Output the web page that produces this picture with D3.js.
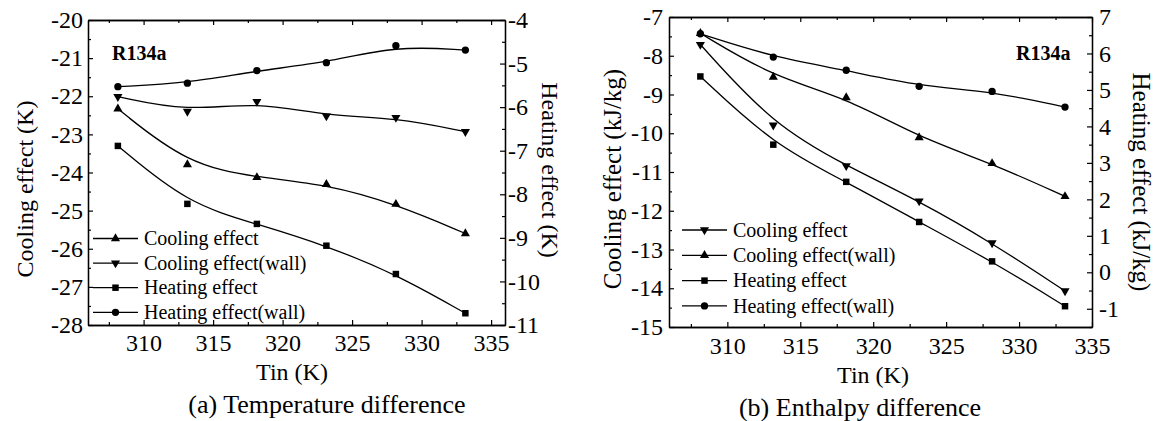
<!DOCTYPE html>
<html><head><meta charset="utf-8">
<script src="https://cdn.jsdelivr.net/npm/d3@7"></script>
<style>body{margin:0;background:#fff}</style>
</head><body>
<svg id="chart" width="1157" height="421"></svg>
<script>
// ---------- data ----------
const tinValues = [308.15, 313.15, 318.15, 323.15, 328.15, 333.15];

// (a) Temperature difference
const coolingA      = [-22.33, -23.79, -24.13, -24.31, -24.83, -25.60]; // left axis
const coolingWallA  = [-22.01, -22.40, -22.14, -22.52, -22.56, -22.93]; // left axis
const heatingA      = [-6.89, -8.22, -8.68, -9.18, -9.83, -10.73];      // right axis
const heatingWallA  = [-5.53, -5.45, -5.16, -4.98, -4.59, -4.69];       // right axis

// (b) Enthalpy difference
const coolingB      = [-7.71, -9.79, -10.84, -11.75, -12.83, -14.07];   // left axis
const coolingWallB  = [-7.42, -8.55, -9.08, -10.11, -10.78, -11.63];    // left axis
const heatingB      = [5.37, 3.50, 2.48, 1.38, 0.30, -0.93];            // right axis
const heatingWallB  = [6.54, 5.90, 5.54, 5.10, 4.96, 4.53];             // right axis

const xTicks = [310, 315, 320, 325, 330, 335];
const xMinorTicks = [307.5, 312.5, 317.5, 322.5, 327.5, 332.5];
const yLeftTicksA = [-28, -27, -26, -25, -24, -23, -22, -21, -20];
const yRightTicksA = [-11, -10, -9, -8, -7, -6, -5, -4];
const yLeftTicksB = [-15, -14, -13, -12, -11, -10, -9, -8, -7];
const yRightTicksB = [-1, 0, 1, 2, 3, 4, 5, 6, 7];

const seriesNames = ["Cooling effect", "Cooling effect(wall)", "Heating effect", "Heating effect(wall)"];

// ---------- drawing ----------
const svg = d3.select("#chart");
svg.append("rect").attr("width", 1157).attr("height", 421).attr("fill", "#fff");
const FONT = "'Liberation Serif','Times New Roman',serif";

const symbolGen = {
  triUp: d3.symbol().type(d3.symbolTriangle).size(36),
  triDown: d3.symbol().type(d3.symbolTriangle).size(36),
  square: d3.symbol().type(d3.symbolSquare).size(42),
  circle: d3.symbol().type(d3.symbolCircle).size(42)
};
function marker(sel, kind, cx, cy) {
  sel.append("path").attr("d", symbolGen[kind]())
    .attr("transform", `translate(${cx},${cy})` + (kind === "triDown" ? " rotate(180)" : ""))
    .attr("fill", "#000");
}

function halfSteps(a, b) {
  const out = [];
  for (let v = Math.ceil(a * 2) / 2; v <= b + 1e-9; v += 0.5) if (Math.abs(v - Math.round(v)) > 1e-9) out.push(v);
  return out;
}

function styleAxis(g, fontSize) {
  g.selectAll(".domain").attr("stroke", "#000").attr("stroke-width", 1.3);
  g.selectAll(".tick line").attr("stroke", "#000").attr("stroke-width", 1.2);
  g.selectAll("text").style("font-family", FONT).style("font-size", fontSize + "px").attr("fill", "#000");
}

function drawPanel(p) {
  const g = svg.append("g");
  const x = d3.scaleLinear().domain(p.xDomain).range(p.xRange);
  const yL = d3.scaleLinear().domain(p.yLDomain).range(p.yRange);
  const yR = d3.scaleLinear().domain(p.yRDomain).range(p.yRange);
  const [x0, x1] = p.xRange, [yb, yt] = p.yRange;
  const fmt = d => String(d);
  const TS = 24;

  // bottom
  g.append("g").attr("transform", `translate(0,${yb})`)
    .call(d3.axisBottom(x).tickValues(xTicks).tickFormat(fmt).tickSizeInner(-5).tickSizeOuter(0).tickPadding(p.xPad));
  g.append("g").attr("transform", `translate(0,${yb})`)
    .call(d3.axisBottom(x).tickValues(xMinorTicks).tickFormat("").tickSizeInner(-3).tickSizeOuter(0));
  // top
  g.append("g").attr("transform", `translate(0,${yt})`)
    .call(d3.axisTop(x).tickValues(xTicks).tickFormat("").tickSizeInner(-5).tickSizeOuter(0));
  g.append("g").attr("transform", `translate(0,${yt})`)
    .call(d3.axisTop(x).tickValues(xMinorTicks).tickFormat("").tickSizeInner(-3).tickSizeOuter(0));
  // left
  g.append("g").attr("transform", `translate(${x0},0)`)
    .call(d3.axisLeft(yL).tickValues(p.yLTicks).tickFormat(fmt).tickSizeInner(-5).tickSizeOuter(0).tickPadding(p.yLPad));
  g.append("g").attr("transform", `translate(${x0},0)`)
    .call(d3.axisLeft(yL).tickValues(halfSteps(p.yLDomain[0], p.yLDomain[1])).tickFormat("").tickSizeInner(-3).tickSizeOuter(0));
  // right
  g.append("g").attr("transform", `translate(${x1},0)`)
    .call(d3.axisRight(yR).tickValues(p.yRTicks).tickFormat(fmt).tickSizeInner(-5).tickSizeOuter(0).tickPadding(p.yRPad));
  g.append("g").attr("transform", `translate(${x1},0)`)
    .call(d3.axisRight(yR).tickValues(halfSteps(p.yRDomain[0], p.yRDomain[1])).tickFormat("").tickSizeInner(-3).tickSizeOuter(0));
  g.selectAll("g").each(function () { styleAxis(d3.select(this), TS); });

  // curves and markers
  p.series.forEach(s => {
    const sc = s.axis === "left" ? yL : yR;
    const pts = tinValues.map((t, i) => [x(t), sc(s.values[i])]);
    g.append("path").attr("d", d3.line().curve(d3.curveBasis)(pts))
      .attr("fill", "none").attr("stroke", "#000").attr("stroke-width", 1.3);
    pts.forEach(pt => marker(g, s.symbol, pt[0], pt[1]));
  });

  // legend
  p.series.forEach((s, i) => {
    const ly = p.legend.y0 + i * p.legend.dy;
    g.append("line").attr("x1", p.legend.x1).attr("x2", p.legend.x2).attr("y1", ly).attr("y2", ly)
      .attr("stroke", "#000").attr("stroke-width", 1.3);
    marker(g, s.symbol, (p.legend.x1 + p.legend.x2) / 2, ly);
    g.append("text").attr("x", p.legend.tx).attr("y", ly + p.legend.base)
      .style("font-family", FONT).style("font-size", "20px").text(s.name);
  });

  // label R134a
  g.append("text").attr("x", p.tag[0]).attr("y", p.tag[1])
    .style("font-family", FONT).style("font-size", "20px").style("font-weight", "bold").text("R134a");

  // axis titles
  g.append("text").attr("transform", `translate(${p.yLTitle[0]},${p.yLTitle[1]}) rotate(-90)`)
    .attr("text-anchor", "middle").style("font-family", FONT).style("font-size", p.titleSize + "px").text(p.yLLabel);
  g.append("text").attr("transform", `translate(${p.yRTitle[0]},${p.yRTitle[1]}) rotate(90)`)
    .attr("text-anchor", "middle").style("font-family", FONT).style("font-size", p.titleSize + "px").text(p.yRLabel);
  g.append("text").attr("x", p.xTitle[0]).attr("y", p.xTitle[1]).attr("text-anchor", "middle")
    .style("font-family", FONT).style("font-size", "24px").text("Tin (K)");
  g.append("text").attr("x", p.caption[0]).attr("y", p.caption[1]).attr("text-anchor", "middle")
    .style("font-family", FONT).style("font-size", "26px").text(p.captionText);
}

drawPanel({
  xDomain: [306, 336], xRange: [88, 505],
  yLDomain: [-28, -20], yRDomain: [-11, -4], yRange: [325, 20],
  yLTicks: yLeftTicksA, yRTicks: yRightTicksA,
  xPad: 9, yLPad: 5, yRPad: 3,
  series: [
    { name: seriesNames[0], values: coolingA, axis: "left", symbol: "triUp" },
    { name: seriesNames[1], values: coolingWallA, axis: "left", symbol: "triDown" },
    { name: seriesNames[2], values: heatingA, axis: "right", symbol: "square" },
    { name: seriesNames[3], values: heatingWallA, axis: "right", symbol: "circle" }
  ],
  legend: { x1: 93, x2: 138, y0: 238.5, dy: 24.6, tx: 144, base: 6.5 },
  tag: [112, 60],
  yLLabel: "Cooling effect (K)", yRLabel: "Heating effect (K)",
  yLTitle: [33, 189], yRTitle: [542, 170], titleSize: 24,
  xTitle: [292, 380], caption: [327, 413], captionText: "(a) Temperature difference"
});

drawPanel({
  xDomain: [306, 335], xRange: [669, 1092],
  yLDomain: [-15, -7], yRDomain: [-1.5, 7], yRange: [327, 17],
  yLTicks: yLeftTicksB, yRTicks: yRightTicksB,
  xPad: 10, yLPad: 6, yRPad: 7,
  series: [
    { name: seriesNames[0], values: coolingB, axis: "left", symbol: "triDown" },
    { name: seriesNames[1], values: coolingWallB, axis: "left", symbol: "triUp" },
    { name: seriesNames[2], values: heatingB, axis: "right", symbol: "square" },
    { name: seriesNames[3], values: heatingWallB, axis: "right", symbol: "circle" }
  ],
  legend: { x1: 682, x2: 727, y0: 230, dy: 25.3, tx: 733, base: 6.7 },
  tag: [1016, 60],
  yLLabel: "Cooling effect (kJ/kg)", yRLabel: "Heating effect (kJ/kg)",
  yLTitle: [621, 179], yRTitle: [1133, 182], titleSize: 25,
  xTitle: [873, 383], caption: [860, 416], captionText: "(b) Enthalpy difference"
});
</script>
</body></html>
